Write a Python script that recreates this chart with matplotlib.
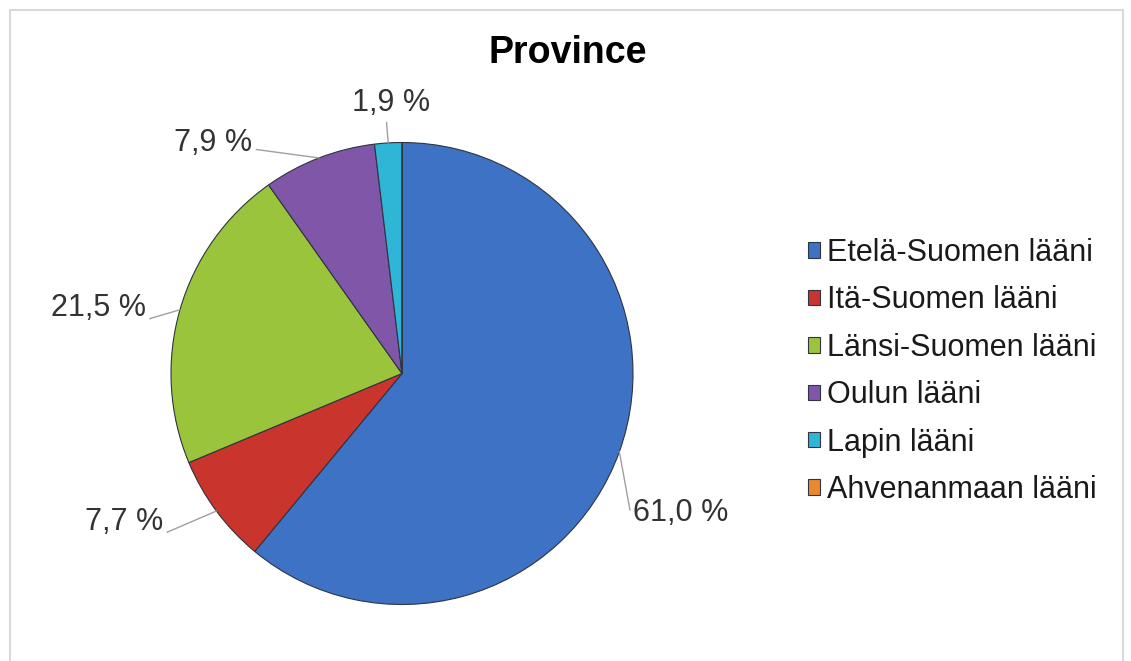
import numpy as np
import matplotlib
matplotlib.use('Agg')
import matplotlib.pyplot as plt
from matplotlib.patches import Rectangle

plt.rcParams['font.family'] = ['Liberation Sans', 'DejaVu Sans']

# data
provinces = ['Etelä-Suomen lääni', 'Itä-Suomen lääni', 'Länsi-Suomen lääni',
             'Oulun lääni', 'Lapin lääni', 'Ahvenanmaan lääni']
shares = [61.0, 7.7, 21.5, 7.9, 1.9, 0.0]
labels = ['61,0 %', '7,7 %', '21,5 %', '7,9 %', '1,9 %', '']

colors = ['#3d72c4', '#c9352c', '#9ac43c', '#7f56a8', '#2fb5d6', '#e8892c']

# label placement (data units of the pie axes) and where the leader leaves the text
label_pos = [(1.0, -0.605), (-1.035, -0.643), (-1.11, 0.284), (-0.649, 0.998), (-0.048, 1.17)]
label_ha = ['left', 'right', 'right', 'right', 'center']
label_rel = [(0.0, 0.05), (1.0, 0.1), (1.0, 0.1), (1.0, 0.3), (0.44, 0.0)]

fig = plt.figure(figsize=(11.31, 6.61), dpi=100)

# outer frame of the chart
fig.patches.append(Rectangle((10 / 1131, -0.05), 1113 / 1131, 1.05 - 10 / 661,
                             transform=fig.transFigure, fill=False,
                             edgecolor='#d9d9d9', linewidth=1.5))

ax = fig.add_axes([171 / 1131, (661 - 373.5 - 231) / 661, 462 / 1131, 462 / 661])
wedges, _ = ax.pie(shares, colors=colors, startangle=90, counterclock=False,
                   radius=1.0,
                   wedgeprops=dict(edgecolor='#2e3440', linewidth=0.8))
ax.set_xlim(-1, 1)
ax.set_ylim(-1, 1)
ax.set_aspect('equal')
ax.axis('off')

for w, lab, pos, ha, rel in zip(wedges, labels, label_pos, label_ha, label_rel):
    if not lab:
        continue
    mid = np.deg2rad((w.theta1 + w.theta2) / 2)
    ax.annotate(lab, xy=(np.cos(mid), np.sin(mid)), xytext=pos,
                ha=ha, va='center', fontsize=22, color='#333333',
                annotation_clip=False,
                arrowprops=dict(arrowstyle='-', color='#a0a0a0', lw=1.0,
                                relpos=rel, shrinkA=1, shrinkB=0))

fig.text(568 / 1131, 1 - 53 / 661, 'Province', ha='center', va='center',
         fontsize=27, fontweight='bold', color='#000000')

leg = fig.legend(wedges, provinces, loc='upper left',
                 bbox_to_anchor=(808 / 1131, 1 - 238 / 661),
                 frameon=False, fontsize=22, handlelength=0.4, handleheight=0.4,
                 handletextpad=0.22, labelspacing=0.57, borderaxespad=0,
                 borderpad=0)
for t in leg.get_texts():
    t.set_color('#1a1a1a')

fig.savefig('out.png', dpi=100)
